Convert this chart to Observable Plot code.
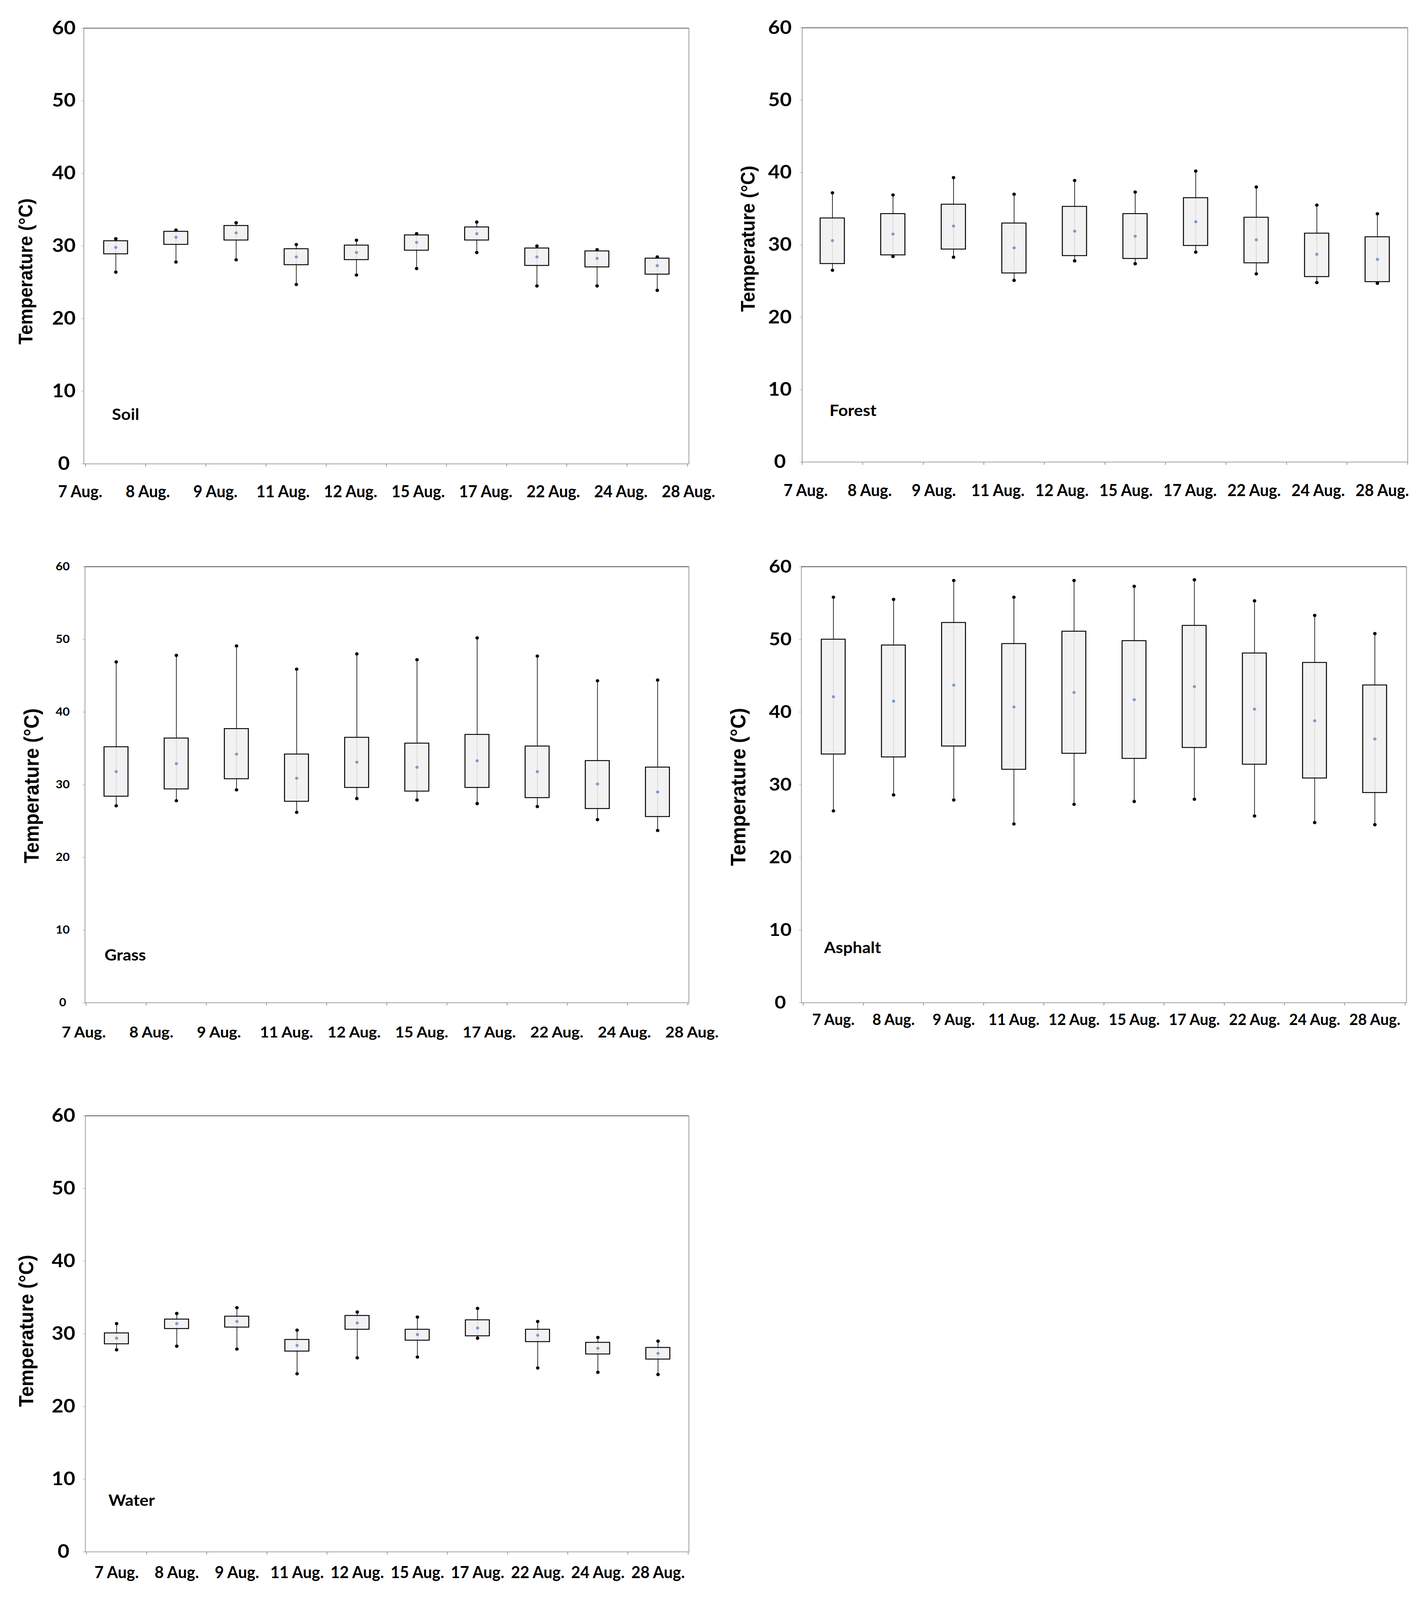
<!DOCTYPE html>
<html><head><meta charset="utf-8">
<script src="https://cdn.jsdelivr.net/npm/d3@7"></script>
<script src="https://cdn.jsdelivr.net/npm/@observablehq/plot@0.6"></script>
<style>
html,body{margin:0;padding:0;background:#fff;overflow:hidden;}
#root{position:absolute;left:0;top:0;width:3653px;height:4403px;background:#fff;overflow:hidden;transform-origin:0 0;}
.panel{position:absolute;}
.panel svg{max-width:none !important;overflow:visible;background:transparent;}
</style></head><body><div id="root"></div>
<script>
const dates = ["7 Aug.","8 Aug.","9 Aug.","11 Aug.","12 Aug.","15 Aug.","17 Aug.","22 Aug.","24 Aug.","28 Aug."];
const yTicks = [0,10,20,30,40,50,60];
const yTitle = "Temperature (°C)";

const soilMin  = [26.4, 27.8, 28.1, 24.7, 26.0, 26.9, 29.1, 24.5, 24.5, 23.9];
const soilQ1   = [28.9, 30.2, 30.8, 27.4, 28.1, 29.4, 30.8, 27.3, 27.1, 26.1];
const soilMean = [29.8, 31.2, 31.8, 28.5, 29.1, 30.5, 31.7, 28.5, 28.3, 27.3];
const soilQ3   = [30.7, 32.0, 32.8, 29.6, 30.1, 31.5, 32.6, 29.7, 29.3, 28.3];
const soilMax  = [31.0, 32.2, 33.2, 30.2, 30.8, 31.7, 33.3, 30.0, 29.5, 28.5];

const forestMin  = [26.5, 28.4, 28.3, 25.1, 27.8, 27.4, 29.0, 26.0, 24.8, 24.7];
const forestQ1   = [27.4, 28.6, 29.4, 26.1, 28.5, 28.1, 29.9, 27.5, 25.6, 24.9];
const forestMean = [30.6, 31.5, 32.6, 29.6, 31.9, 31.2, 33.2, 30.7, 28.7, 28.0];
const forestQ3   = [33.7, 34.3, 35.6, 33.0, 35.3, 34.3, 36.5, 33.8, 31.6, 31.1];
const forestMax  = [37.2, 36.9, 39.3, 37.0, 38.9, 37.3, 40.2, 38.0, 35.5, 34.3];

const grassMin  = [27.1, 27.8, 29.3, 26.2, 28.1, 27.9, 27.4, 27.0, 25.2, 23.7];
const grassQ1   = [28.4, 29.4, 30.8, 27.7, 29.6, 29.1, 29.6, 28.2, 26.7, 25.6];
const grassMean = [31.8, 32.9, 34.2, 30.9, 33.1, 32.4, 33.3, 31.8, 30.1, 29.0];
const grassQ3   = [35.2, 36.4, 37.7, 34.2, 36.5, 35.7, 36.9, 35.3, 33.3, 32.4];
const grassMax  = [46.9, 47.8, 49.1, 45.9, 48.0, 47.2, 50.2, 47.7, 44.3, 44.4];

const asphaltMin  = [26.4, 28.6, 27.9, 24.6, 27.3, 27.7, 28.0, 25.7, 24.8, 24.5];
const asphaltQ1   = [34.2, 33.8, 35.3, 32.1, 34.3, 33.6, 35.1, 32.8, 30.9, 28.9];
const asphaltMean = [42.1, 41.5, 43.7, 40.7, 42.7, 41.7, 43.5, 40.4, 38.8, 36.3];
const asphaltQ3   = [50.0, 49.2, 52.3, 49.4, 51.1, 49.8, 51.9, 48.1, 46.8, 43.7];
const asphaltMax  = [55.8, 55.5, 58.1, 55.8, 58.1, 57.3, 58.2, 55.3, 53.3, 50.8];

const waterMin  = [27.8, 28.3, 27.9, 24.5, 26.7, 26.8, 29.4, 25.3, 24.7, 24.4];
const waterQ1   = [28.6, 30.7, 30.9, 27.6, 30.6, 29.1, 29.7, 28.9, 27.2, 26.5];
const waterMean = [29.4, 31.4, 31.7, 28.4, 31.5, 29.9, 30.8, 29.8, 28.0, 27.3];
const waterQ3   = [30.1, 32.0, 32.4, 29.2, 32.5, 30.6, 31.9, 30.6, 28.8, 28.1];
const waterMax  = [31.4, 32.8, 33.6, 30.5, 33.0, 32.3, 33.5, 31.7, 29.5, 29.0];

function rowsOf(mn, q1, mean, q3, mx) {
  return dates.map((date, i) => ({date, min: mn[i], q1: q1[i], mean: mean[i], q3: q3[i], max: mx[i]}));
}

const TICKFONT = "Lato, 'Open Sans', sans-serif";
const TITLEFONT = "'Liberation Sans', Arial, sans-serif";

const panels = [
  {name: "Soil", rows: rowsOf(soilMin, soilQ1, soilMean, soilQ3, soilMax),
   box: {x: 0, y: 0, w: 1826, h: 1460}, frame: {l: 214, r: 1763, t: 77, b: 1276},
   yFont: 52, yDist: 51, titleDx: -148, titleDy: 70, titleSize: 50,
   labelDx: 72, labelDy: -121, xFont: 46, xSquash: 0.88, xCap: 59, spread: [204, 1763]},
  {name: "Forest", rows: rowsOf(forestMin, forestQ1, forestMean, forestQ3, forestMax),
   box: {x: 1826, y: 0, w: 1827, h: 1460}, frame: {l: 2053, r: 3603, t: 76, b: 1271},
   yFont: 52, yDist: 57, titleDx: -138, titleDy: -17, titleSize: 50,
   labelDx: 70, labelDy: -127, xFont: 46, xSquash: 0.88, xCap: 61, spread: [2058, 3541]},
  {name: "Grass", rows: rowsOf(grassMin, grassQ1, grassMean, grassQ3, grassMax),
   box: {x: 0, y: 1460, w: 1826, h: 1500}, frame: {l: 217, r: 1763, t: 1559, b: 2759},
   yFont: 31, yDist: 57, titleDx: -135, titleDy: 3, titleSize: 53,
   labelDx: 50, labelDy: -116, xFont: 42, xSquash: 0.96, xCap: 66, spread: [211, 1774]},
  {name: "Asphalt", rows: rowsOf(asphaltMin, asphaltQ1, asphaltMean, asphaltQ3, asphaltMax),
   box: {x: 1826, y: 1460, w: 1827, h: 1500}, frame: {l: 2051, r: 3600, t: 1559, b: 2759},
   yFont: 50, yDist: 54, titleDx: -161, titleDy: 6, titleSize: 54,
   labelDx: 58, labelDy: -137, xFont: 43, xSquash: 0.9, xCap: 31, spread: null},
  {name: "Water", rows: rowsOf(waterMin, waterQ1, waterMean, waterQ3, waterMax),
   box: {x: 0, y: 2960, w: 1826, h: 1443}, frame: {l: 218, r: 1763, t: 3070, b: 4270},
   yFont: 52, yDist: 56, titleDx: -150, titleDy: -8, titleSize: 52,
   labelDx: 59, labelDy: -127, xFont: 45, xSquash: 0.9, xCap: 40, spread: null}
];

const root = document.getElementById("root");

function place(el, box) {
  const d = document.createElement("div");
  d.className = "panel";
  d.style.left = box.x + "px";
  d.style.top = box.y + "px";
  d.appendChild(el);
  root.appendChild(d);
}

function squashX(svg, f) {
  svg.querySelectorAll('g[aria-label="x-axis tick label"] text').forEach(t => {
    const w = t.getComputedTextLength();
    if (w > 0) {
      t.setAttribute("textLength", (w * f).toFixed(1));
      t.setAttribute("lengthAdjust", "spacingAndGlyphs");
    }
  });
}

for (const p of panels) {
  const {box, frame} = p;
  const mL = frame.l - box.x, mR = box.x + box.w - frame.r;
  const mT = frame.t - box.y, mB = box.y + box.h - frame.b;
  const step = (frame.r - frame.l) / dates.length;
  const inset = (step - 62) / 2;
  const last = dates[dates.length - 1];
  const xAxisOpts = {tickSize: 0, tickPadding: p.xCap, fontSize: p.xFont, fontFamily: TICKFONT,
    fontWeight: "bold", fill: "black", label: null};
  const marks = [
    Plot.frame({stroke: "#9a9a9a", strokeWidth: 2}),
    Plot.ruleY([60], {stroke: "#707070", strokeWidth: 2.5}),
    Plot.axisY({ticks: yTicks, tickSize: 6, tickPadding: p.yDist - 6, textAnchor: "middle",
      fontSize: p.yFont, fontFamily: TICKFONT, fontWeight: "bold", stroke: "#999", fill: "black", label: null}),
    Plot.ruleX(dates, {x: d => d, y1: 0, y2: 0, insetBottom: -8, dx: -step / 2, stroke: "#999", strokeWidth: 2}),
    Plot.ruleX([last], {x: d => d, y1: 0, y2: 0, insetBottom: -8, dx: step / 2, stroke: "#999", strokeWidth: 2}),
    Plot.ruleX(p.rows, {x: "date", y1: "min", y2: "max", stroke: "black", strokeWidth: 1.6}),
    Plot.barY(p.rows, {x: "date", y1: "q1", y2: "q3", fill: "#f0f0f0", fillOpacity: 0.88,
      stroke: "black", strokeWidth: 2.5, insetLeft: inset, insetRight: inset}),
    Plot.dot(p.rows, {x: "date", y: "min", r: 4.5, fill: "black"}),
    Plot.dot(p.rows, {x: "date", y: "max", r: 4.5, fill: "black"}),
    Plot.dot(p.rows, {x: "date", y: "mean", r: 4, fill: "#7b9bc8"}),
    Plot.text([yTitle], {frameAnchor: "left", text: d => d, rotate: -90, textAnchor: "middle", lineAnchor: "middle",
      dx: p.titleDx, dy: p.titleDy, fontSize: p.titleSize, fontFamily: TITLEFONT, fontWeight: "bold", fill: "black"}),
    Plot.text([p.name], {frameAnchor: "bottom-left", text: d => d, textAnchor: "start", lineAnchor: "bottom",
      dx: p.labelDx, dy: p.labelDy, fontSize: 43, fontFamily: TICKFONT, fontWeight: "bold", fill: "black"})
  ];
  if (!p.spread) marks.push(Plot.axisX(xAxisOpts));
  const chart = Plot.plot({
    width: box.w, height: box.h,
    marginLeft: mL, marginRight: mR, marginTop: mT, marginBottom: mB,
    x: {type: "band", domain: dates, padding: 0, axis: p.spread ? null : undefined},
    y: {domain: [0, 60], axis: null},
    style: {background: "transparent", overflow: "visible"},
    marks
  });
  place(chart, box);
  if (!p.spread) squashX(chart, p.xSquash);
  if (p.spread) {
    const strip = Plot.plot({
      width: box.w, height: box.h,
      marginLeft: p.spread[0] - box.x, marginRight: box.x + box.w - p.spread[1],
      marginTop: mT, marginBottom: mB,
      x: {type: "point", domain: dates, padding: 0},
      style: {background: "transparent", overflow: "visible"},
      marks: [Plot.axisX(xAxisOpts)]
    });
    place(strip, box);
    squashX(strip, p.xSquash);
  }
}

function fit() {
  const sx = Math.min(1, window.innerWidth / 3653);
  const sy = Math.min(1, window.innerHeight / 4403);
  root.style.transform = `scale(${sx}, ${sy})`;
}
fit();
window.addEventListener("resize", fit);
</script>
</body></html>
